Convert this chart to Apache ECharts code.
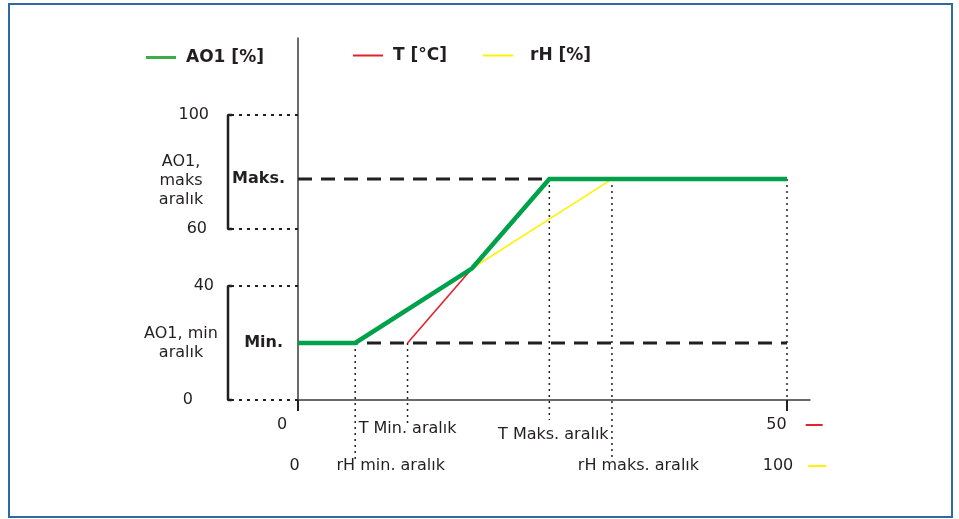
<!DOCTYPE html>
<html>
<head>
<meta charset="utf-8">
<script src="https://cdn.jsdelivr.net/npm/echarts@6/dist/echarts.min.js"></script>
<style>
  html, body { margin: 0; padding: 0; background: #fff; }
  #frame { position: absolute; left: 8px; top: 3px; width: 941px; height: 511px; border: 2px solid #2d6aa2; }
  #main { position: absolute; left: 0; top: 0; width: 959px; height: 519px; }
</style>
</head>
<body>
<div id="frame"></div>
<div id="main"></div>
<script>
// ---- data ----
const aoTicks = [0, 40, 60, 100];            // AO1 [%] tick labels
const aoLimits = [20, 77.5];                 // AO1 min / max level
const tEnds = [0, 50];                       // T [°C] scale ends
const rhEnds = [0, 100];                     // rH [%] scale ends
const tRange = [11.2, 25.7];                 // T min / max aralık
const rhRange = [11.7, 64.2];                // rH min / max aralık
const ao1T = [0, 5.85, 17.8, 25.7, 50];      // AO1 curve, x in T units
const ao1Val = [20, 20, 46.2, 77.5, 77.5];   // AO1 curve values
const bracketSpans = [[60, 100], [0, 40]];   // AO1 ranges shown by brackets

// ---- styles / layout ----
const FONT = 'DejaVu Sans';
const TXT = '#231f20';
const GREEN = '#00a14b', RED = '#e3222b', YEL = '#fff200';
const PX0 = 298, PX50 = 787, PXEND = 810;     // layout of main grid
const tMax = tEnds[1] * (PXEND - PX0) / (PX50 - PX0);
const rhMax = rhEnds[1] * (PXEND - PX0) / (PX50 - PX0);
const yMax = 127;

const tLabel = {};
tLabel[tEnds[0]] = '{z|0}';
tLabel[tRange[0]] = '{tmin|T Min. aralık}';
tLabel[tRange[1]] = '{tmax|T Maks. aralık}';
tLabel[tEnds[1]] = '{e|50}{g|}{r|}';
const rhLabel = {};
rhLabel[rhEnds[0]] = '{z|0}';
rhLabel[rhRange[0]] = '{rmin|rH min. aralık}';
rhLabel[rhRange[1]] = '{rmax|rH maks. aralık}';
rhLabel[rhEnds[1]] = '{e|100}{g|}{y|}';

const base = { fontFamily: FONT, fontSize: 16, color: TXT };

const chart = echarts.init(document.getElementById('main'), null, { renderer: 'canvas' });

function seg(x0, y0, x1, y1) { return [[x0, y0], [x1, y1]]; }

const series = [];
// left dotted level lines
aoTicks.forEach(v => series.push({
  type: 'line', xAxisIndex: 2, yAxisIndex: 1, data: seg(6, v, 73, v),
  symbol: 'none', silent: true, clip: false,
  lineStyle: { color: TXT, width: 2, type: [3, 5] }
}));
// brackets
bracketSpans.forEach(s => series.push({
  type: 'line', xAxisIndex: 2, yAxisIndex: 1,
  data: [[7, s[1]], [3, s[1]], [3, s[0]], [7, s[0]]],
  symbol: 'none', silent: true, clip: false,
  lineStyle: { color: TXT, width: 2.5 }
}));
// dashed Maks./Min. lines
aoLimits.forEach(v => series.push({
  type: 'line', xAxisIndex: 0, yAxisIndex: 0, data: seg(tEnds[0], v, tEnds[1], v),
  symbol: 'none', silent: true,
  lineStyle: { color: TXT, width: 3, type: [14, 9] }
}));
// dotted verticals
const dotted = { color: TXT, width: 1.5, type: [2, 4] };
series.push({ type: 'line', xAxisIndex: 0, yAxisIndex: 0, clip: false, symbol: 'none', silent: true,
  data: seg(tRange[0], aoLimits[0], tRange[0], -9), lineStyle: dotted });
series.push({ type: 'line', xAxisIndex: 0, yAxisIndex: 0, clip: false, symbol: 'none', silent: true,
  data: seg(tRange[1], aoLimits[1], tRange[1], -7), lineStyle: dotted });
series.push({ type: 'line', xAxisIndex: 1, yAxisIndex: 0, clip: false, symbol: 'none', silent: true,
  data: seg(rhRange[0], aoLimits[0], rhRange[0], -21), lineStyle: dotted });
series.push({ type: 'line', xAxisIndex: 1, yAxisIndex: 0, clip: false, symbol: 'none', silent: true,
  data: seg(rhRange[1], aoLimits[1], rhRange[1], -21), lineStyle: dotted });
series.push({ type: 'line', xAxisIndex: 0, yAxisIndex: 0, clip: false, symbol: 'none', silent: true,
  data: seg(tEnds[1], aoLimits[1], tEnds[1], 0), lineStyle: dotted });
// the three curves
series.push({ name: 'rH [%]', type: 'line', xAxisIndex: 1, yAxisIndex: 0, symbol: 'none',
  data: [[rhRange[0], aoLimits[0]], [rhRange[1], aoLimits[1]]],
  lineStyle: { color: YEL, width: 1.6 }, itemStyle: { color: YEL } });
series.push({ name: 'T [°C]', type: 'line', xAxisIndex: 0, yAxisIndex: 0, symbol: 'none',
  data: [[tRange[0], aoLimits[0]], [tRange[1], aoLimits[1]]],
  lineStyle: { color: RED, width: 1.6 }, itemStyle: { color: RED } });
series.push({ name: 'AO1 [%]', type: 'line', xAxisIndex: 0, yAxisIndex: 0, symbol: 'none',
  data: ao1T.map((t, i) => [t, ao1Val[i]]),
  lineStyle: { color: GREEN, width: 4.5, join: 'miter' }, itemStyle: { color: '#3cae49' } });

const legendText = { fontFamily: FONT, fontSize: 17, fontWeight: 'bold', color: TXT, padding: [0, 0, 0, 5] };

const option = {
  animation: false,
  backgroundColor: 'transparent',
  legend: [
    { data: ['AO1 [%]'], left: 141, top: 44, icon: 'rect', itemWidth: 30, itemHeight: 3,
      textStyle: legendText, selectedMode: false },
    { data: ['T [°C]', { name: 'rH [%]', textStyle: Object.assign({}, legendText, { padding: [0, 0, 0, 12] }) }],
      left: 348, top: 42, icon: 'rect', itemWidth: 30, itemHeight: 2,
      itemGap: 36, textStyle: legendText, selectedMode: false }
  ],
  grid: [
    { left: PX0, right: 959 - PXEND, top: 38, bottom: 119, outerBoundsMode: 'none', containLabel: false },
    { left: 225, width: PX0 - 225, top: 38, bottom: 119, outerBoundsMode: 'none', containLabel: false }
  ],
  xAxis: [
    { type: 'value', gridIndex: 0, position: 'bottom', min: 0, max: tMax, splitLine: { show: false },
      axisLine: { show: true, onZero: false, lineStyle: { color: '#3a3a3a', width: 1.5 } },
      axisTick: { show: true, customValues: tEnds, length: 11, inside: false,
        lineStyle: { color: TXT, width: 2 } },
      axisLabel: { show: true, customValues: [tEnds[0], tRange[0], tRange[1], tEnds[1]],
        margin: 17, formatter: v => tLabel[v] || '', hideOverlap: false,
        rich: {
          z: Object.assign({}, base, { padding: [0, 32, 0, 0] }),
          tmin: Object.assign({}, base, { padding: [4, 0, 0, 0] }),
          tmax: Object.assign({}, base, { padding: [10, 0, 0, 8] }),
          e: Object.assign({}, base, { padding: [0, 0, 0, 15] }),
          g: { width: 19, height: 2 },
          r: { width: 17, height: 2, backgroundColor: RED }
        } } },
    { type: 'value', gridIndex: 0, position: 'bottom', offset: 0, min: 0, max: rhMax, splitLine: { show: false },
      axisLine: { show: false, onZero: false }, axisTick: { show: false },
      axisLabel: { show: true, customValues: [rhEnds[0], rhRange[0], rhRange[1], rhEnds[1]],
        margin: 58, formatter: v => rhLabel[v] || '', hideOverlap: false,
        rich: {
          z: Object.assign({}, base, { padding: [0, 7, 0, 0] }),
          rmin: Object.assign({}, base, { padding: [0, 0, 4, 71] }),
          rmax: Object.assign({}, base, { padding: [0, 0, 0, 53] }),
          e: Object.assign({}, base, { padding: [0, 0, 0, 15] }),
          g: { width: 15, height: 2 },
          y: { width: 18, height: 2, backgroundColor: YEL }
        } } },
    { type: 'value', gridIndex: 1, min: 0, max: 73, show: false }
  ],
  yAxis: [
    { type: 'value', gridIndex: 0, min: 0, max: yMax, splitLine: { show: false },
      axisLine: { show: true, lineStyle: { color: '#3a3a3a', width: 1.5 } },
      axisTick: { show: false }, axisLabel: { show: false } },
    { type: 'value', gridIndex: 1, min: 0, max: yMax, position: 'left', splitLine: { show: false },
      axisLine: { show: false }, axisTick: { show: false },
      axisLabel: { show: true, customValues: aoTicks, margin: 11, hideOverlap: false,
        formatter: v => '{n' + v + '|' + v + '}',
        rich: {
          n0: Object.assign({}, base, { padding: [0, 21, 0, 0] }),
          n40: Object.assign({}, base, { padding: [0, 0, 0, 0] }),
          n60: Object.assign({}, base, { padding: [0, 7, 0, 0] }),
          n100: Object.assign({}, base, { padding: [0, 5, 0, 0] })
        } } },
    { type: 'value', gridIndex: 1, min: 0, max: yMax, position: 'left', splitLine: { show: false },
      axisLine: { show: false }, axisTick: { show: false },
      axisLabel: { show: true, customValues: aoLimits, margin: 44, align: 'center', hideOverlap: false,
        formatter: v => v === aoLimits[1] ? '{d|AO1,}\n{d|maks}\n{d|aralık}' : '{m|AO1, min}\n{m|aralık}',
        rich: {
          d: Object.assign({}, base, { lineHeight: 19, padding: [4, 0, 0, 0] }),
          m: Object.assign({}, base, { lineHeight: 19 })
        } } },
    { type: 'value', gridIndex: 1, min: 0, max: yMax, position: 'right', splitLine: { show: false },
      axisLine: { show: false }, axisTick: { show: false },
      axisLabel: { show: true, inside: true, customValues: aoLimits, margin: 13, hideOverlap: false,
        formatter: v => v === aoLimits[1] ? '{b|Maks.}' : '{c|Min.}',
        rich: {
          b: Object.assign({}, base, { fontWeight: 'bold' }),
          c: Object.assign({}, base, { fontWeight: 'bold', padding: [0, 2, 0, 0] })
        } } }
  ],
  series: series
};
chart.setOption(option);
</script>
</body>
</html>
